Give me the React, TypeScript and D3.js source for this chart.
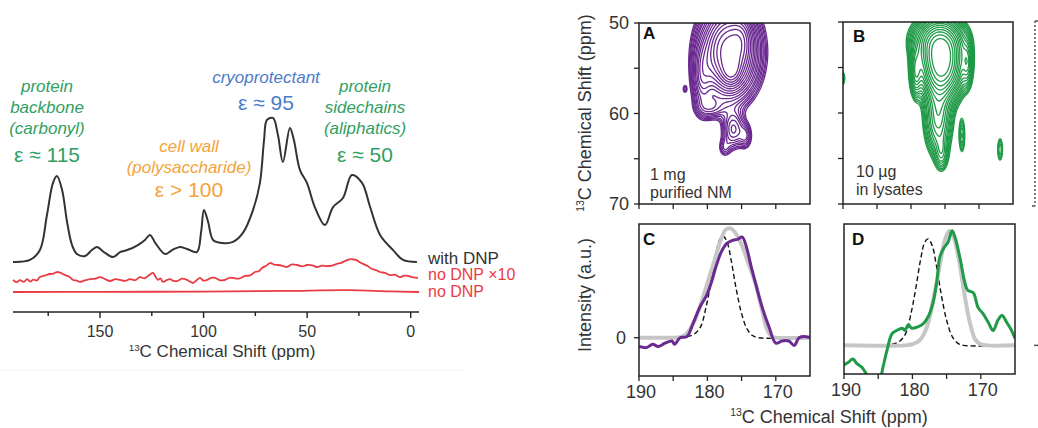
import React, { useMemo } from 'react';
import * as d3 from 'd3';

// ---- left panel: 1D 13C spectra (ppm, intensity above the "no DNP" baseline) ----
const withDNP: [number, number][] = [
  [192, 16.7], [183.8, 17.8], [179, 23.3], [175.6, 42.8], [172.7, 60.6], [170.8, 64.4],
  [168.3, 56.7], [165.9, 38.9], [163.5, 26.1], [161.1, 21.1], [157.2, 20], [153.9, 23.3],
  [151.4, 25], [148.1, 22.2], [143.7, 19.4], [140.3, 22.2], [136.9, 23.3], [131.7, 26.1],
  [128.3, 28.9], [125.9, 31.7], [123, 26.7], [118.6, 21.1], [115.2, 23.3], [111.4, 25],
  [108, 23.9], [103.2, 22.2], [101.2, 33.3], [99.8, 45.6], [97.8, 38.9], [95.4, 28.9],
  [91.1, 27.2], [85.8, 27.8], [81, 32.8], [76.1, 45.6], [72.8, 60.6], [70.8, 84.4],
  [69.4, 95.6], [66.5, 96.7], [64.1, 87.2], [61.7, 72.2], [58.3, 91.1], [56.4, 84.4],
  [53.5, 67.8], [50.1, 60.6], [46.3, 47.2], [41.4, 37.2], [37.5, 47.2], [32.7, 52.2],
  [28.4, 65], [23.5, 60.6], [19.6, 47.2], [14.8, 31.7], [8.5, 23.3], [3.7, 17.8], [-3, 16.7],
];
const noDNPx10: [number, number][] = [
  [192, 6.7], [190.2, 5.4], [188.6, 6.6], [186.8, 5.6], [185.2, 7.2], [183.6, 5.8], [182.3, 6.9],
  [180.5, 6.4], [179, 8.3], [176.5, 9.2], [174.1, 10], [172.4, 10.2], [170.8, 11.1], [168.7, 10.5],
  [166.9, 9.4], [165, 8.6], [163, 6.7], [161.2, 6.3], [159.7, 5.6], [157.4, 6.4], [154.8, 7.2],
  [152.2, 7.4], [150, 8.3], [147.6, 7.2], [145.2, 6.1], [142.6, 7.1], [140.3, 6.7], [137.8, 6.2],
  [135.5, 7.2], [133, 6.6], [130.7, 8.3], [128.6, 7.6], [126.8, 8.9], [124.4, 10.6], [123.2, 8.5],
  [122, 6.7], [120.8, 7.6], [119.6, 5.6], [117.8, 6.6], [116.2, 7.2], [114.6, 6.2], [112.8, 6.1],
  [110.4, 7.4], [108, 6.7], [106.6, 5.8], [105.1, 5], [103.4, 6.5], [101.7, 7.8], [100, 6.3],
  [98.3, 6.7], [96.4, 7.9], [94.5, 7.8], [92, 6.5], [89.6, 6.7], [87.6, 7.9], [85.8, 7.8],
  [83, 7.4], [80, 8.9], [77.4, 9.2], [75.2, 11.1], [73.4, 11.5], [71.8, 13.3], [69.8, 14.6],
  [67.9, 16.1], [66, 15.2], [64.1, 15], [61.8, 14.5], [59.7, 13.9], [57.4, 15.3], [54.9, 15],
  [52.4, 14.2], [50.1, 15], [47.6, 14.8], [45.3, 13.9], [42.8, 14.6], [40.4, 14.4], [38, 14.7],
  [35.6, 15.6], [33.6, 16.2], [31.7, 17.2], [29.3, 18.3], [27.8, 18.1], [26.4, 17.8], [24.6, 16.5],
  [23, 15.6], [20.8, 14.4], [18.7, 12.8], [16.7, 12.2], [14.8, 11.1], [12.4, 10.6], [10, 9.4],
  [7.6, 9.6], [5.2, 8.3], [3.2, 9.1], [1.3, 8.9], [-1.2, 8.1], [-3.5, 7.8],
];
const noDNP: [number, number][] = [
  [192, 0], [150, 0.1], [100, 0.2], [60, 0.6], [30, 1.0], [10, 0.3], [-4, 0],
];
const leftMajorTicks = [150, 100, 50, 0];
const leftMinorTicks = [175, 125, 75, 25];

// ---- 2D contour peaks: [CO ppm, CA ppm, width CO, width CA, amplitude] ----
const peaksA: number[][] = [
  [176.8, 53.2, 2.3, 2.8, 1.0],
  [176.5, 55.2, 0.8, 1.0, 0.35],
  [175.0, 51.5, 1.0, 1.5, 0.2],
  [180.8, 56.0, 0.9, 2.3, 0.22],
  [179.5, 59.3, 1.3, 0.8, 0.14],
  [176.2, 61.8, 1.0, 1.3, 0.2],
  [174.4, 62.5, 0.6, 0.9, 0.12],
  [177.5, 63.8, 0.6, 0.7, 0.08],
  [183.3, 57.3, 0.25, 0.35, 0.07],
];
const peaksB: number[][] = [
  [175.5, 54.5, 1.8, 2.2, 1.0],
  [176.0, 52.0, 2.2, 1.5, 0.4],
  [179.3, 55.5, 0.5, 1.6, 0.25],
  [171.7, 54.5, 0.45, 1.5, 0.2],
  [176.0, 60.5, 1.2, 2.5, 0.3],
  [175.5, 64.5, 0.6, 1.2, 0.12],
  [172.5, 62.5, 0.3, 1.3, 0.12],
  [166.9, 64.0, 0.3, 1.0, 0.1],
  [190.2, 56.2, 0.35, 0.6, 0.12],
];
const contourLevels = [0.05, 0.06, 0.07, 0.085, 0.1, 0.12, 0.14, 0.17, 0.2, 0.24, 0.28, 0.33, 0.39, 0.46, 0.54, 0.63, 0.74, 0.87];

// ---- 1D CO projections (ppm, normalised intensity) ----
const dashedFit: [number, number][] = [
  [190, 0], [184, 0], [183, 0.01], [182, 0.03], [181, 0.1], [180.2, 0.28], [179.5, 0.5],
  [178.8, 0.75], [178.2, 0.9], [177.7, 0.93], [177.1, 0.87], [176.5, 0.7], [175.8, 0.45],
  [175, 0.22], [174.2, 0.08], [173.4, 0.02], [172.5, 0], [165, 0],
];
const grayC: [number, number][] = [
  [190, 0], [185, 0], [184, 0.005], [183, 0.04], [182, 0.14], [181, 0.3], [180, 0.5], [179, 0.7],
  [178, 0.9], [177.3, 0.99], [176.6, 1.0], [175.8, 0.95], [175, 0.85], [174, 0.68], [173, 0.5],
  [172, 0.25], [171.3, 0.08], [170.6, 0.01], [170, 0], [165, 0],
];
const purpleC: [number, number][] = [
  [190, -0.08], [188.9, -0.09], [188, -0.06], [187.2, -0.08], [186.2, -0.05], [185.2, -0.03],
  [184.8, -0.06], [184, 0], [183, 0.01], [182.1, 0.13], [181.1, 0.28], [180.1, 0.39], [179.4, 0.51],
  [178.7, 0.66], [178, 0.78], [177.2, 0.86], [176.3, 0.89], [175.6, 0.9], [174.9, 0.92],
  [174.3, 0.83], [173.6, 0.65], [172.8, 0.46], [172, 0.28], [171, 0.1], [170, -0.05],
  [169.1, -0.03], [168.1, -0.03], [167.3, -0.07], [166.6, 0], [165.6, 0.01], [165, 0],
];
const grayD: [number, number][] = [
  [190, 0], [181, 0], [180, 0.01], [179, 0.04], [178, 0.14], [177, 0.38], [176, 0.7], [175.2, 0.93],
  [174.6, 1.0], [174, 0.95], [173.2, 0.75], [172.4, 0.45], [171.6, 0.2], [170.8, 0.05], [170, 0.01],
  [169, 0], [165, 0],
];
const greenD: [number, number][] = [
  [190, -0.17], [189.4, -0.15], [188.7, -0.12], [188.1, -0.16], [187.4, -0.19], [186.6, -0.26],
  [185.5, -0.32], [184.6, -0.26], [184.3, -0.19], [183.7, -0.04], [183, 0.1], [182.3, 0.13],
  [181.5, 0.15], [181.1, 0.13], [180.6, 0.18], [180.1, 0.15], [179.3, 0.16], [178.4, 0.19],
  [177.7, 0.25], [177, 0.37], [176.4, 0.57], [176, 0.77], [175.4, 0.85], [174.8, 0.9], [174.2, 1.0],
  [173.8, 0.95], [173, 0.75], [172.3, 0.54], [171.9, 0.48], [171.1, 0.46], [170.4, 0.33],
  [169.7, 0.28], [168.9, 0.2], [168.2, 0.13], [167.5, 0.22], [166.9, 0.26], [166.2, 0.2],
  [165.5, 0.13], [165, 0.06],
];
const coTicks = [190, 185, 180, 175, 170];
const coLabels = [190, 180, 170];
const caTicks = [50, 55, 60, 65, 70];
const caLabels = [50, 60, 70];

const FONT = "'Liberation Sans', Arial, Helvetica, sans-serif";
const GREEN_TXT = '#30a062';
const ORANGE_TXT = '#f4a23a';
const BLUE_TXT = '#4a7cc8';
const RED = '#ea3b43';
const PURPLE = '#6b2a90';
const GREEN = '#1f9a47';
const AXIS = '#222';
const TXT = '#333';

function contourPaths(peaks: number[][], x: d3.ScaleLinear<number, number>, y: d3.ScaleLinear<number, number>) {
  const [x0, x1] = x.range();
  const [y0, y1] = y.range();
  const nx = Math.ceil(x1 - x0) + 1;
  const ny = Math.ceil(y1 - y0) + 1;
  const values = new Float64Array(nx * ny);
  for (let j = 0; j < ny; j++) {
    const ca = y.invert(y0 + j);
    for (let i = 0; i < nx; i++) {
      const co = x.invert(x0 + i);
      let v = 0;
      for (const [cx, cy, sx, sy, a] of peaks) {
        const dx = (co - cx) / sx;
        const dy = (ca - cy) / sy;
        v += a * Math.exp(-0.5 * (dx * dx + dy * dy));
      }
      values[j * nx + i] = v;
    }
  }
  const contours = d3.contours().size([nx, ny]).thresholds(contourLevels)(Array.from(values));
  const proj = d3.geoTransform({
    point(px: number, py: number) {
      (this as any).stream.point(x0 + px - 0.5, y0 + py - 0.5);
    },
  });
  const path = d3.geoPath(proj);
  return contours.map((c) => path(c as any) || '');
}

const Sup13 = ({ size }: { size: number }) => (
  <tspan fontSize={size * 0.58} dy={-size * 0.38}>13</tspan>
);

export default function App() {
  const lx = d3.scaleLinear().domain([192, -4]).range([13, 419]);
  const ly = d3.scaleLinear().domain([0, 100]).range([292, 112]);
  const leftLine = d3.line<[number, number]>().x((d) => lx(d[0])).y((d) => ly(d[1])).curve(d3.curveCatmullRom.alpha(0.5));

  const xA = d3.scaleLinear().domain([190, 165]).range([639, 810]);
  const yA = d3.scaleLinear().domain([50, 70]).range([23, 204]);
  const xB = d3.scaleLinear().domain([190, 165]).range([843, 1013]);
  const yB = d3.scaleLinear().domain([50, 70]).range([22, 204]);
  const xC = d3.scaleLinear().domain([190, 165]).range([639, 810]);
  const yC = d3.scaleLinear().domain([-0.35, 1.04]).range([376, 224]);
  const xD = d3.scaleLinear().domain([190, 165]).range([844, 1015]);
  const yD = d3.scaleLinear().domain([-0.25, 1.06]).range([374, 224]);

  const pathsA = useMemo(() => contourPaths(peaksA, xA, yA), []);
  const pathsB = useMemo(() => contourPaths(peaksB, xB, yB), []);

  const lineC = d3.line<[number, number]>().x((d) => xC(d[0])).y((d) => yC(d[1])).curve(d3.curveCatmullRom.alpha(0.5));
  const lineD = d3.line<[number, number]>().x((d) => xD(d[0])).y((d) => yD(d[1])).curve(d3.curveCatmullRom.alpha(0.5));

  const frame = (x: d3.ScaleLinear<number, number>, y: d3.ScaleLinear<number, number>) => {
    const [xa, xb] = x.range();
    const [ya, yb] = y.range();
    return { x: xa, y: Math.min(ya, yb), width: xb - xa, height: Math.abs(yb - ya) };
  };
  const fA = frame(xA, yA), fB = frame(xB, yB), fC = frame(xC, yC), fD = frame(xD, yD);

  const bottomTicks = (x: d3.ScaleLinear<number, number>, yBottom: number, labels: boolean) => (
    <g>
      {coTicks.map((t) => (
        <line key={t} x1={x(t)} x2={x(t)} y1={yBottom} y2={yBottom + 5} stroke={AXIS} strokeWidth={1.3} />
      ))}
      {labels && coLabels.map((t) => (
        <text key={'l' + t} x={x(t) + 2} y={yBottom + 22} textAnchor="middle" fontSize={18} fill={TXT}>{t}</text>
      ))}
    </g>
  );

  const annot = (x: number, y: number, lines: string[], eps: string, eY: number, color: string) => (
    <g fill={color} textAnchor="middle">
      {lines.map((l, i) => (
        <text key={i} x={x} y={y + i * 21} fontSize={17} fontStyle="italic">{l}</text>
      ))}
      <text x={x} y={eY} fontSize={21}>{eps}</text>
    </g>
  );

  return (
    <div style={{ position: 'absolute', left: 0, top: 0 }}>
      <svg width={1038} height={428} style={{ display: 'block', fontFamily: FONT, background: '#fff' }}>
        <defs>
          <clipPath id="clipA"><rect {...fA} /></clipPath>
          <clipPath id="clipB"><rect {...fB} /></clipPath>
          <clipPath id="clipC"><rect {...fC} /></clipPath>
          <clipPath id="clipD"><rect {...fD} /></clipPath>
        </defs>

        {/* ---------- left: 1D spectra ---------- */}
        <line x1={0} x2={463} y1={370} y2={370} stroke="#f0f0f0" strokeWidth={1} />
        {annot(47, 92, ['protein', 'backbone', '(carbonyl)'], 'ε ≈ 115', 162, GREEN_TXT)}
        {annot(189, 152, ['cell wall', '(polysaccharide)'], 'ε > 100', 197, ORANGE_TXT)}
        {annot(266, 83, ['cryoprotectant'], 'ε ≈ 95', 110, BLUE_TXT)}
        {annot(365, 92, ['protein', 'sidechains', '(aliphatics)'], 'ε ≈ 50', 162, GREEN_TXT)}

        <path d={leftLine(noDNP) || ''} fill="none" stroke={RED} strokeWidth={1.8} />
        <path d={leftLine(noDNPx10) || ''} fill="none" stroke={RED} strokeWidth={1.8} />
        <path d={leftLine(withDNP) || ''} fill="none" stroke="#333" strokeWidth={2} />

        <text x={428} y={264} fontSize={17} fill="#333">with DNP</text>
        <text x={428} y={280} fontSize={16} fill={RED}>no DNP ×10</text>
        <text x={428} y={297} fontSize={16} fill={RED}>no DNP</text>

        <line x1={lx.range()[0]} x2={lx.range()[1]} y1={312} y2={312} stroke={AXIS} strokeWidth={1.6} />
        {leftMajorTicks.map((t) => (
          <g key={t}>
            <line x1={lx(t)} x2={lx(t)} y1={312} y2={318} stroke={AXIS} strokeWidth={1.4} />
            <text x={lx(t)} y={337} textAnchor="middle" fontSize={16} fill={TXT}>{t}</text>
          </g>
        ))}
        {leftMinorTicks.map((t) => (
          <line key={t} x1={lx(t)} x2={lx(t)} y1={312} y2={316} stroke={AXIS} strokeWidth={1.4} />
        ))}
        <text x={222} y={357} textAnchor="middle" fontSize={17} fill={TXT}>
          <Sup13 size={17} /><tspan dy={17 * 0.38}>C Chemical Shift (ppm)</tspan>
        </text>

        {/* ---------- right: 2D contours ---------- */}
        <g clipPath="url(#clipA)">
          {pathsA.map((d, i) => <path key={i} d={d} fill="none" stroke={PURPLE} strokeWidth={1.3} />)}
        </g>
        <g clipPath="url(#clipB)">
          {pathsB.map((d, i) => <path key={i} d={d} fill="none" stroke={GREEN} strokeWidth={1.3} />)}
        </g>

        {/* C */}
        <g clipPath="url(#clipC)">
          <path d={lineC(dashedFit) || ''} fill="none" stroke="#111" strokeWidth={1.4} strokeDasharray="5,3" />
          <path d={lineC(grayC) || ''} fill="none" stroke="#c6c6c6" strokeWidth={4} />
          <path d={lineC(purpleC) || ''} fill="none" stroke={PURPLE} strokeWidth={3} />
        </g>
        {/* D */}
        <g clipPath="url(#clipD)">
          <line x1={xD(190)} x2={xD(189)} y1={yD(0)} y2={yD(0)} stroke={RED} strokeWidth={2} />
          <path d={lineD(dashedFit) || ''} fill="none" stroke="#111" strokeWidth={1.4} strokeDasharray="5,3" />
          <path d={lineD(grayD) || ''} fill="none" stroke="#c6c6c6" strokeWidth={4} />
          <path d={lineD(greenD) || ''} fill="none" stroke={GREEN} strokeWidth={3} />
        </g>

        {/* frames */}
        {[fA, fB, fC, fD].map((f, i) => (
          <rect key={i} {...f} fill="none" stroke={AXIS} strokeWidth={1.5} />
        ))}

        {/* left axes of A and B */}
        {caTicks.map((t) => (
          <g key={t}>
            <line x1={fA.x - 5} x2={fA.x} y1={yA(t)} y2={yA(t)} stroke={AXIS} strokeWidth={1.3} />
            <line x1={fB.x - 5} x2={fB.x} y1={yB(t)} y2={yB(t)} stroke={AXIS} strokeWidth={1.3} />
          </g>
        ))}
        {caLabels.map((t) => (
          <text key={t} x={fA.x - 10} y={yA(t) + 6} textAnchor="end" fontSize={18} fill={TXT}>{t}</text>
        ))}
        {/* C zero tick */}
        <line x1={fC.x - 5} x2={fC.x} y1={yC(0)} y2={yC(0)} stroke={AXIS} strokeWidth={1.3} />
        <text x={fC.x - 13} y={yC(0) + 6} textAnchor="end" fontSize={18} fill={TXT}>0</text>

        {bottomTicks(xA, fA.y + fA.height, false)}
        {bottomTicks(xB, fB.y + fB.height, false)}
        {bottomTicks(xC, fC.y + fC.height, true)}
        {bottomTicks(xD, fD.y + fD.height, true)}

        {/* panel letters and notes */}
        <text x={643} y={39} fontSize={17} fontWeight="bold" fill="#111">A</text>
        <text x={853} y={42} fontSize={17} fontWeight="bold" fill="#111">B</text>
        <text x={643} y={245} fontSize={17} fontWeight="bold" fill="#111">C</text>
        <text x={852} y={245} fontSize={17} fontWeight="bold" fill="#111">D</text>
        <text x={650} y={180} fontSize={16} fill={TXT}>1 mg</text>
        <text x={650} y={198} fontSize={16} fill={TXT}>purified NM</text>
        <text x={856} y={177} fontSize={16} fill={TXT}>10 µg</text>
        <text x={856} y={195} fontSize={16} fill={TXT}>in lysates</text>

        {/* axis titles */}
        <text transform="translate(591,113) rotate(-90)" textAnchor="middle" fontSize={18} fill={TXT}>
          <Sup13 size={18} /><tspan dy={18 * 0.38}>C Chemical Shift (ppm)</tspan>
        </text>
        <text transform="translate(591,295) rotate(-90)" textAnchor="middle" fontSize={18} fill={TXT}>Intensity (a.u.)</text>
        <text x={829} y={423} textAnchor="middle" fontSize={18} fill={TXT}>
          <Sup13 size={18} /><tspan dy={18 * 0.38}>C Chemical Shift (ppm)</tspan>
        </text>

        {/* dotted bracket at far right */}
        <line x1={1035} x2={1035} y1={21} y2={206} stroke="#555" strokeWidth={1.5} strokeDasharray="2,2" />
        <line x1={1035} x2={1038} y1={21} y2={21} stroke="#555" strokeWidth={1.5} />
        <line x1={1032} x2={1035} y1={206} y2={206} stroke="#555" strokeWidth={1.5} />
        <line x1={1034} x2={1038} y1={yD(0)} y2={yD(0)} stroke="#555" strokeWidth={1.5} />
      </svg>
    </div>
  );
}
